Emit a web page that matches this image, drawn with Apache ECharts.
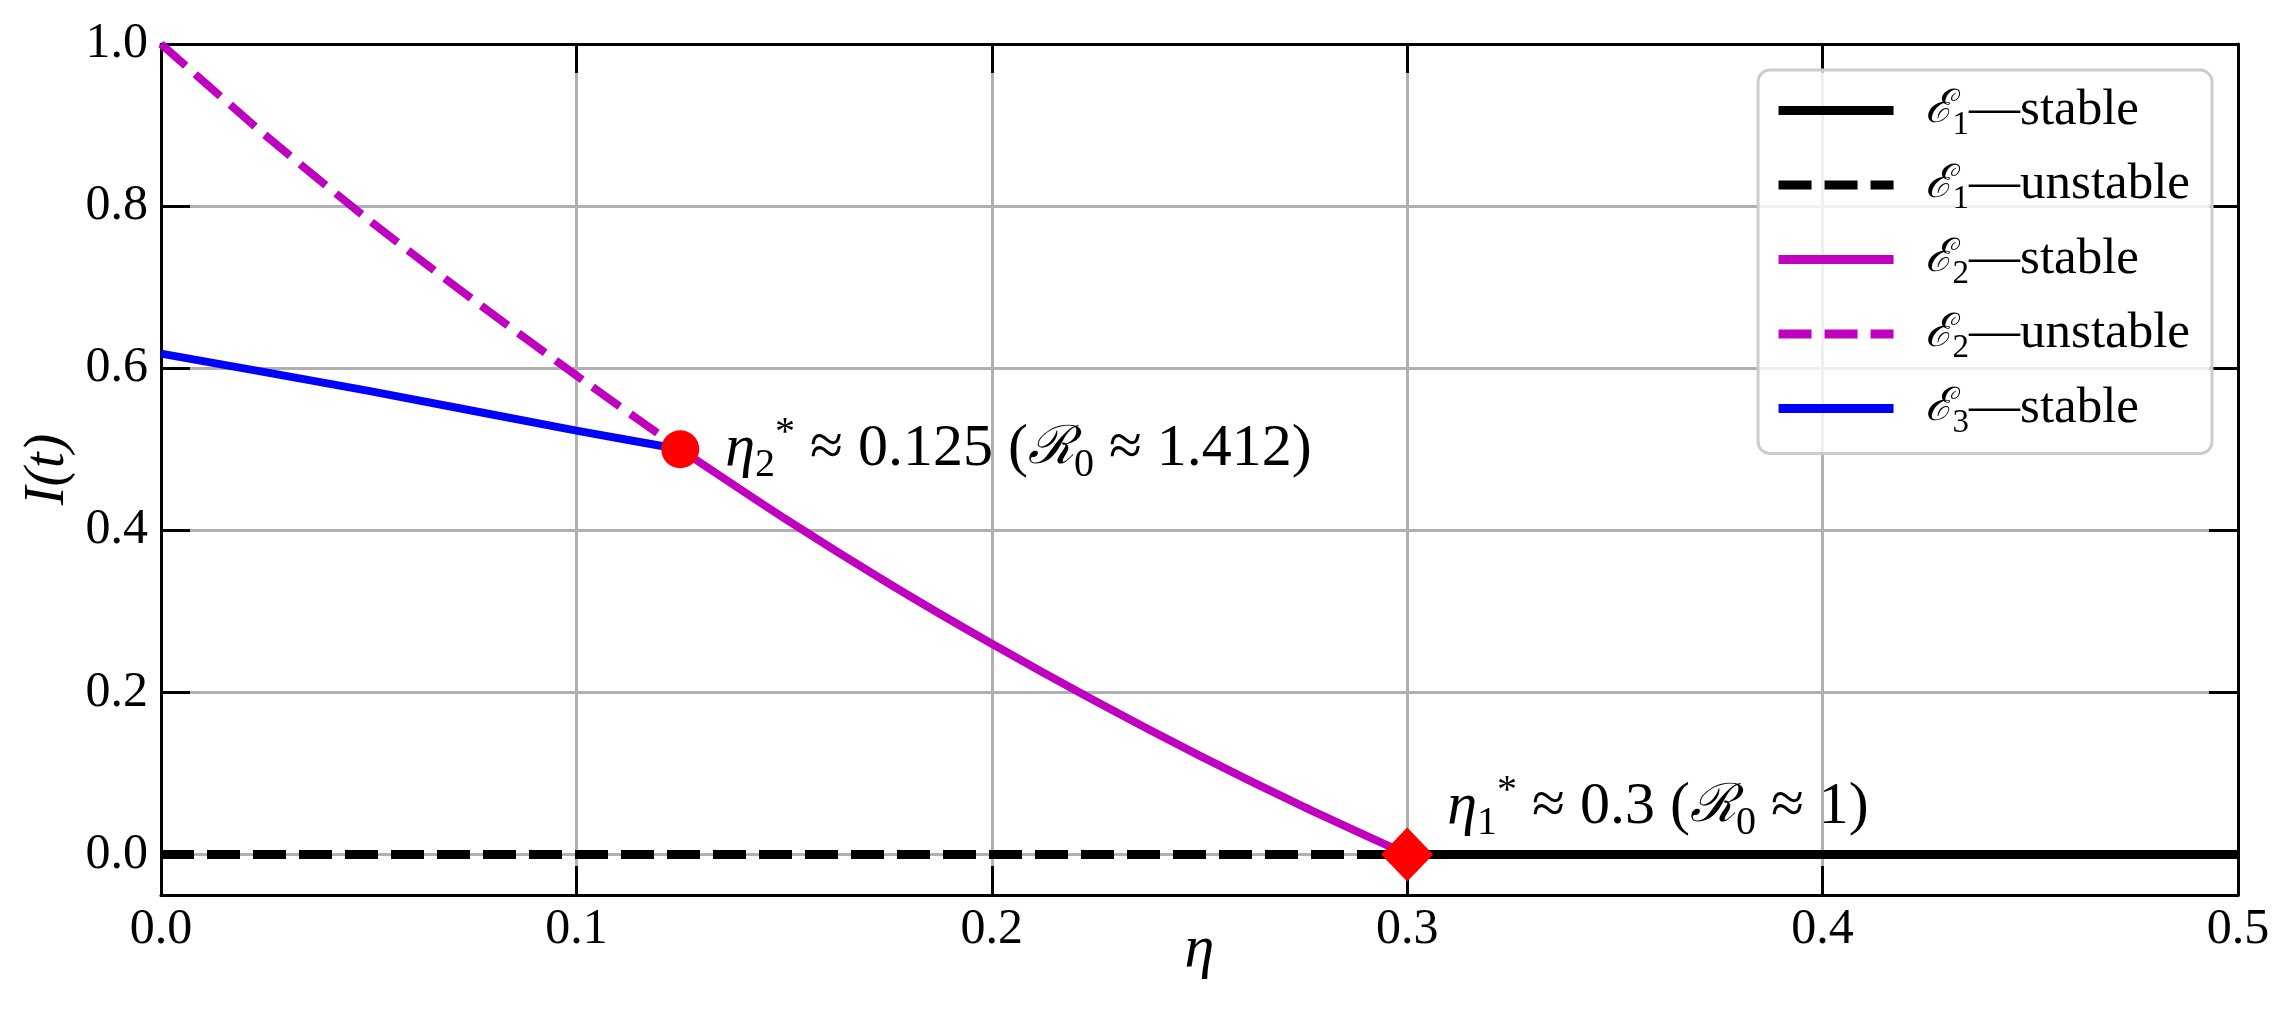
<!DOCTYPE html>
<html>
<head>
<meta charset="utf-8">
<script src="https://cdn.jsdelivr.net/npm/echarts@6/dist/echarts.min.js"></script>
<style>
html,body{margin:0;padding:0;background:#fff;}
#chart{width:2287px;height:1034px;}
</style>
</head>
<body>
<div id="chart"></div>
<script>
// ---- data ----
const xTicks = [0, 0.1, 0.2, 0.3, 0.4, 0.5];
const yTicks = [0, 0.2, 0.4, 0.6, 0.8, 1.0];

const etaE1Stable = [0.3, 0.5];
const iE1Stable = [0, 0];
const etaE1Unstable = [0, 0.3];
const iE1Unstable = [0, 0];

const etaE2Unstable = [0, 0.025, 0.05, 0.075, 0.1, 0.125];
const iE2Unstable = [1.0, 0.888, 0.783, 0.685, 0.591, 0.5];
const etaE2Stable = [0.125, 0.15, 0.175, 0.2, 0.225, 0.25, 0.275, 0.3];
const iE2Stable = [0.5, 0.415, 0.335, 0.260, 0.189, 0.122, 0.059, 0];

const etaE3Stable = [0, 0.05, 0.1, 0.125];
const iE3Stable = [0.618, 0.572, 0.523, 0.5];

const bifEta2 = [0.125]; const bifI2 = [0.5];
const bifEta1 = [0.3]; const bifI1 = [0];

const seriesNames = ['E1-stable', 'E1-unstable', 'E2-stable', 'E2-unstable', 'E3-stable'];

// ---- build ----
const pairs = (xs, ys) => xs.map((x, i) => [x, ys[i]]);
const FONT = 'Liberation Serif';
const CAL = 'DejaVu Serif';
const MAG = '#bf00bf';
const DASH = [33, 13];

const legendLabels = {
  'E1-stable': '{cal|ℰ}{sub|1}{n|—stable}',
  'E1-unstable': '{cal|ℰ}{sub|1}{n|—unstable}',
  'E2-stable': '{cal|ℰ}{sub|2}{n|—stable}',
  'E2-unstable': '{cal|ℰ}{sub|2}{n|—unstable}',
  'E3-stable': '{cal|ℰ}{sub|3}{n|—stable}'
};
const legendStyles = {
  'E1-stable': {color: '#000', type: 'solid'},
  'E1-unstable': {color: '#000', type: DASH},
  'E2-stable': {color: MAG, type: 'solid'},
  'E2-unstable': {color: MAG, type: DASH},
  'E3-stable': {color: '#0000ff', type: 'solid'}
};

const annRich = {
  eta: {fontFamily: FONT, fontStyle: 'italic', fontSize: 60, lineHeight: 72, color: '#000'},
  n: {fontFamily: FONT, fontSize: 60, lineHeight: 72, color: '#000'},
  cal: {fontFamily: CAL, fontStyle: 'italic', fontSize: 53, lineHeight: 72, color: '#000'},
  sub: {fontFamily: FONT, fontSize: 40, lineHeight: 40, verticalAlign: 'bottom', color: '#000'},
  sup: {fontFamily: FONT, fontSize: 40, lineHeight: 40, verticalAlign: 'top', color: '#000'}
};

const chart = echarts.init(document.getElementById('chart'), null, {renderer: 'canvas'});

const axisCommonX = {type: 'value', min: 0, max: 0.5, interval: 0.1};

chart.setOption({
  backgroundColor: '#fff',
  animation: false,
  grid: {left: 161, right: 49, top: 44, bottom: 139, containLabel: false},
  legend: {
    data: seriesNames.map(n => ({
      name: n,
      lineStyle: {color: legendStyles[n].color, width: 9, type: legendStyles[n].type, cap: 'butt'}
    })),
    orient: 'vertical',
    right: 75, top: 70,
    itemWidth: 115, itemHeight: 22,
    itemGap: 18,
    padding: [15, 22, 14, 16],
    backgroundColor: 'rgba(255,255,255,0.8)',
    borderColor: '#cccccc', borderWidth: 3, borderRadius: 12,
    itemStyle: {opacity: 0},
    formatter: name => legendLabels[name],
    textStyle: {
      fontFamily: FONT, fontSize: 51, color: '#000', padding: [0, 0, 0, 26],
      rich: {
        n: {fontFamily: FONT, fontSize: 51, lineHeight: 62, color: '#000'},
        cal: {fontFamily: CAL, fontStyle: 'italic', fontSize: 46, lineHeight: 62, color: '#000'},
        sub: {fontFamily: FONT, fontSize: 33, lineHeight: 33, verticalAlign: 'bottom', color: '#000'}
      }
    }
  },
  xAxis: [
    Object.assign({}, axisCommonX, {
      position: 'bottom',
      name: 'η', nameLocation: 'middle', nameGap: 25, nameMoveOverlap: false,
      nameTextStyle: {fontFamily: FONT, fontStyle: 'italic', fontSize: 60, color: '#000'},
      axisLine: {show: true, onZero: false, lineStyle: {color: '#000', width: 3}},
      axisTick: {show: true, inside: true, length: 29, lineStyle: {color: '#000', width: 3}},
      axisLabel: {show: true, margin: 10, fontFamily: FONT, fontSize: 50, color: '#000',
        showMinLabel: true, showMaxLabel: true, formatter: v => v.toFixed(1)},
      splitLine: {show: true, lineStyle: {color: '#b0b0b0', width: 3}}
    }),
    Object.assign({}, axisCommonX, {
      position: 'top',
      axisLine: {show: true, onZero: false, lineStyle: {color: '#000', width: 3}},
      axisTick: {show: true, inside: true, length: 29, lineStyle: {color: '#000', width: 3}},
      axisLabel: {show: false},
      splitLine: {show: false}
    })
  ],
  yAxis: [
    {
      type: 'value', min: -0.05, max: 1.0, position: 'left',
      name: 'I(t)', nameLocation: 'middle', nameGap: 85, nameRotate: 90, nameMoveOverlap: false,
      nameTextStyle: {fontFamily: FONT, fontStyle: 'italic', fontSize: 56, color: '#000'},
      axisLine: {show: true, onZero: false, lineStyle: {color: '#000', width: 3}},
      axisTick: {show: true, inside: true, length: 29, customValues: yTicks, lineStyle: {color: '#000', width: 3}},
      axisLabel: {show: true, margin: 13, fontFamily: FONT, fontSize: 50, color: '#000',
        customValues: yTicks, formatter: v => v.toFixed(1)},
      splitLine: {show: true, lineStyle: {color: '#b0b0b0', width: 3}}
    },
    {
      type: 'value', min: -0.05, max: 1.0, position: 'right',
      axisLine: {show: true, onZero: false, lineStyle: {color: '#000', width: 3}},
      axisTick: {show: true, inside: true, length: 29, customValues: yTicks, lineStyle: {color: '#000', width: 3}},
      axisLabel: {show: false},
      splitLine: {show: false}
    }
  ],
  series: [
    {name: 'E1-unstable', type: 'line', data: pairs(etaE1Unstable, iE1Unstable), symbol: 'none', z: 3,
      lineStyle: {color: '#000', width: 9, type: DASH, cap: 'butt'}, itemStyle: {color: '#000'}},
    {name: 'E1-stable', type: 'line', data: pairs(etaE1Stable, iE1Stable), symbol: 'none', z: 3,
      lineStyle: {color: '#000', width: 9, type: 'solid'}, itemStyle: {color: '#000'}},
    {name: 'E2-unstable', type: 'line', data: pairs(etaE2Unstable, iE2Unstable), symbol: 'none',
      smooth: 0.25, z: 4,
      lineStyle: {color: MAG, width: 8, type: DASH, cap: 'butt'}, itemStyle: {color: MAG}},
    {name: 'E2-stable', type: 'line', data: pairs(etaE2Stable, iE2Stable), symbol: 'none',
      smooth: 0.25, z: 4,
      lineStyle: {color: MAG, width: 8, type: 'solid'}, itemStyle: {color: MAG}},
    {name: 'E3-stable', type: 'line', data: pairs(etaE3Stable, iE3Stable), symbol: 'none',
      smooth: 0.25, z: 4,
      lineStyle: {color: '#0000ff', width: 8, type: 'solid'}, itemStyle: {color: '#0000ff'}},
    {name: 'bif2', type: 'scatter', data: pairs(bifEta2, bifI2), symbol: 'circle', symbolSize: 38, z: 6,
      itemStyle: {color: '#ff0000', opacity: 1},
      label: {show: true, position: 'right', distance: 26, offset: [0, 0], fontFamily: FONT,
        formatter: '{eta|η}{sub|2}{sup|*}{n| ≈ 0.125 (}{cal|ℛ}{sub|0}{n| ≈ 1.412)}', rich: annRich}},
    {name: 'bif1', type: 'scatter', data: pairs(bifEta1, bifI1), symbol: 'diamond', symbolSize: [52, 54], z: 6,
      itemStyle: {color: '#ff0000', opacity: 1},
      label: {show: true, position: 'right', distance: 14, offset: [0, -47], fontFamily: FONT,
        formatter: '{eta|η}{sub|1}{sup|*}{n| ≈ 0.3 (}{cal|ℛ}{sub|0}{n| ≈ 1)}', rich: annRich}}
  ]
});
</script>
</body>
</html>
